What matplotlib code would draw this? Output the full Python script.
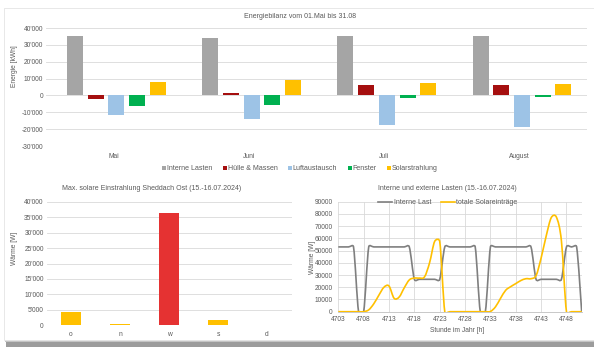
import numpy as np
import matplotlib
matplotlib.use("Agg")
import matplotlib.pyplot as plt
from matplotlib.path import Path
from matplotlib.patches import PathPatch, Rectangle
from matplotlib.lines import Line2D
from matplotlib.ticker import FuncFormatter, MultipleLocator

plt.rcParams['font.family'] = ['Liberation Sans', 'DejaVu Sans']

# Energiebilanz Mai-August [kWh]
monate = ["Mai", "Juni", "Juli", "August"]
interne_lasten = [35200, 34000, 35200, 35200]
huelle_massen = [-2300, 1400, 6200, 6200]
luftaustausch = [-11700, -14200, -17700, -18500]
fenster = [-6200, -5800, -1400, -700]
solarstrahlung = [8100, 9100, 7200, 6600]

# Max. solare Einstrahlung Sheddach Ost [W]
richtungen = ["o", "n", "w", "s", "d"]
einstrahlung = [4200, 500, 36300, 1800, 250]

# Stundenwerte 15.-16.07.2024 [W]
stunden = list(range(4703, 4752))
interne_last = ([53000] * 4 + [0] * 2 + [53000] * 9 + [26500] * 6 +
                [53000] * 7 + [0] * 2 + [53000] * 9 + [26500] * 6 +
                [53000] * 3 + [0])
solareintraege = [0, 0, 0, 0, 0, 0, 1500, 6500, 13500, 20000, 21000, 11000,
                  12000, 19500, 26000, 27500, 27500, 28500, 40000, 57500, 57500,
                  0, 0, 0, 0, 0, 0, 0, 0, 0, 200, 4000, 11000, 17500, 20500,
                  23000, 25500, 27000, 27000, 29500, 44000, 62000, 77000, 77500,
                  58000, 0, 0, 0, 0]

GRAU_TEXT = "#595959"
GRID = "#D9D9D9"
FS = 4.8


def tausender(v, pos):
    s = f"{abs(int(round(v))):,}".replace(",", "'")
    return ("-" if v < 0 else "") + s


def glatte_linie(ax, x, y, **kw):
    # Bezier-Glaettung wie bei Excel-Liniendiagrammen (in Bildschirmkoordinaten)
    pts = ax.transData.transform(np.column_stack([x, y]))
    n = len(pts)
    verts = [pts[0]]
    codes = [Path.MOVETO]
    for i in range(n - 1):
        p0 = pts[i - 1] if i > 0 else pts[i]
        p1, p2 = pts[i], pts[i + 1]
        p3 = pts[i + 2] if i + 2 < n else pts[i + 1]
        seg = np.hypot(*(p2 - p1))
        d1 = (p2 - p0) / 6.0
        d2 = (p3 - p1) / 6.0
        lim = 0.6 * seg
        for d in (d1, d2):
            l = np.hypot(*d)
            if l > lim and l > 0:
                d *= lim / l
        verts += [p1 + d1, p2 - d2, p2]
        codes += [Path.CURVE4] * 3
    verts = ax.transData.inverted().transform(np.array(verts))
    patch = PathPatch(Path(verts, codes), facecolor="none", **kw)
    ax.add_patch(patch)
    return patch


def stil(ax):
    for s in ax.spines.values():
        s.set_visible(False)
    ax.tick_params(length=0, labelsize=FS, colors=GRAU_TEXT, pad=2)
    ax.set_axisbelow(True)
    ax.patch.set_alpha(0)


fig = plt.figure(figsize=(5.94, 3.47), dpi=100)
W, H = 594.0, 347.0


def fx(px):
    return px / W


def fy(py):
    return 1 - py / H


# Karte mit Schatten
fig.patches.append(Rectangle((fx(6), fy(347)), 1, 6.5 / H, transform=fig.transFigure,
                             facecolor="#9c9c9c", edgecolor="none", zorder=-3))
fig.patches.append(Rectangle((fx(5), fy(341.5)), 1, 1.5 / H, transform=fig.transFigure,
                             facecolor="#c4c4c4", edgecolor="none", zorder=-2))
fig.patches.append(Rectangle((fx(4), fy(340)), 1, 332 / H, transform=fig.transFigure,
                             facecolor="white", edgecolor="#e4e4e4", linewidth=0.6, zorder=-1))

# --- Energiebilanz ---
ax1 = fig.add_axes([fx(46), fy(146), (587 - 46) / W, 118 / H])
stil(ax1)
x = np.arange(len(monate))
reihen = [
    ("Interne Lasten", interne_lasten, "#A5A5A5"),
    ("Hülle & Massen", huelle_massen, "#A50F0F"),
    ("Luftaustausch", luftaustausch, "#9DC3E6"),
    ("Fenster", fenster, "#00B050"),
    ("Solarstrahlung", solarstrahlung, "#FFC000"),
]
abstand = 0.153
for k, (name, werte, farbe) in enumerate(reihen):
    ax1.bar(x + (k - 2) * abstand + 0.02, werte, width=0.118, color=farbe, label=name, zorder=3)
ax1.set_xlim(-0.5, len(monate) - 0.5)
ax1.set_ylim(-30000, 40000)
ax1.yaxis.set_major_locator(MultipleLocator(10000))
ax1.yaxis.set_major_formatter(FuncFormatter(tausender))
ax1.set_xticks(x)
ax1.set_xticklabels(monate)
ax1.tick_params(axis="x", pad=5)
ax1.grid(axis="y", color=GRID, linewidth=0.6)
fig.text(fx(300), fy(16), "Energiebilanz vom 01.Mai bis 31.08", ha="center", va="center",
         fontsize=5, color=GRAU_TEXT)
fig.text(fx(15), fy(66), "Energie [kWh]", rotation=90, ha="center", va="center",
         fontsize=FS, color=GRAU_TEXT)
handles = [Line2D([], [], marker="s", linestyle="none", markersize=2.6, color=f,
                  markeredgewidth=0) for _, _, f in reihen]
fig.legend(handles, [r[0] for r in reihen], loc="center", bbox_to_anchor=(fx(300), fy(169)),
           ncol=5, frameon=False, fontsize=5, handlelength=0.6, handletextpad=0.1,
           columnspacing=1.5, labelcolor=GRAU_TEXT)

# --- Max. solare Einstrahlung ---
ax2 = fig.add_axes([fx(46.5), fy(325.3), 245 / W, 123.6 / H])
stil(ax2)
farben2 = ["#E53232" if w == max(einstrahlung) else "#FFC000" for w in einstrahlung]
ax2.bar(np.arange(len(richtungen)), einstrahlung, width=0.41, color=farben2, zorder=3)
ax2.set_xlim(-0.5, len(richtungen) - 0.5)
ax2.set_ylim(0, 40000)
ax2.yaxis.set_major_locator(MultipleLocator(5000))
ax2.yaxis.set_major_formatter(FuncFormatter(tausender))
ax2.set_xticks(range(len(richtungen)))
ax2.set_xticklabels(richtungen)
ax2.tick_params(axis="x", pad=4)
ax2.grid(axis="y", color=GRID, linewidth=0.6)
fig.text(fx(152), fy(189), "Max. solare Einstrahlung Sheddach Ost (15.-16.07.2024)",
         ha="center", va="center", fontsize=5, color=GRAU_TEXT)
fig.text(fx(15), fy(248), "Wärme [W]", rotation=90, ha="center", va="center",
         fontsize=FS, color=GRAU_TEXT)

# --- Interne und externe Lasten ---
ax3 = fig.add_axes([fx(338.3), fy(311.7), 243.4 / W, 110 / H])
stil(ax3)
ax3.set_xlim(4703, 4751)
ax3.set_ylim(0, 90000)
ax3.set_xticks(range(4703, 4751, 5))
ax3.yaxis.set_major_locator(MultipleLocator(10000))
ax3.tick_params(axis="y", pad=4)
ax3.tick_params(axis="x", pad=3)
ax3.grid(color=GRID, linewidth=0.6)
ax3.spines["bottom"].set_visible(True)
ax3.spines["bottom"].set_color("#BFBFBF")
ax3.spines["bottom"].set_linewidth(0.6)
glatte_linie(ax3, stunden, interne_last, edgecolor="#7F7F7F", linewidth=1.2, zorder=3)
glatte_linie(ax3, stunden, solareintraege, edgecolor="#FFC000", linewidth=1.2, zorder=4)
ax3.legend([Line2D([], [], color="#7F7F7F", lw=1.2), Line2D([], [], color="#FFC000", lw=1.2)],
           ["Interne Last", "totale Solareinträge"], loc="center",
           bbox_to_anchor=((448 - 338.3) / 243.4, (311.7 - 203) / 110), ncol=2, frameon=False,
           fontsize=5, handlelength=2.0, handletextpad=0.2, columnspacing=1.4,
           labelcolor=GRAU_TEXT)
fig.text(fx(447), fy(189), "Interne und externe Lasten (15.-16.07.2024)",
         ha="center", va="center", fontsize=5, color=GRAU_TEXT)
fig.text(fx(312), fy(257), "Wärme [W]", rotation=90, ha="center", va="center",
         fontsize=FS, color=GRAU_TEXT)
fig.text(fx(457), fy(330), "Stunde im Jahr [h]", ha="center", va="center",
         fontsize=FS, color=GRAU_TEXT)

fig.savefig("out.png", dpi=100)
